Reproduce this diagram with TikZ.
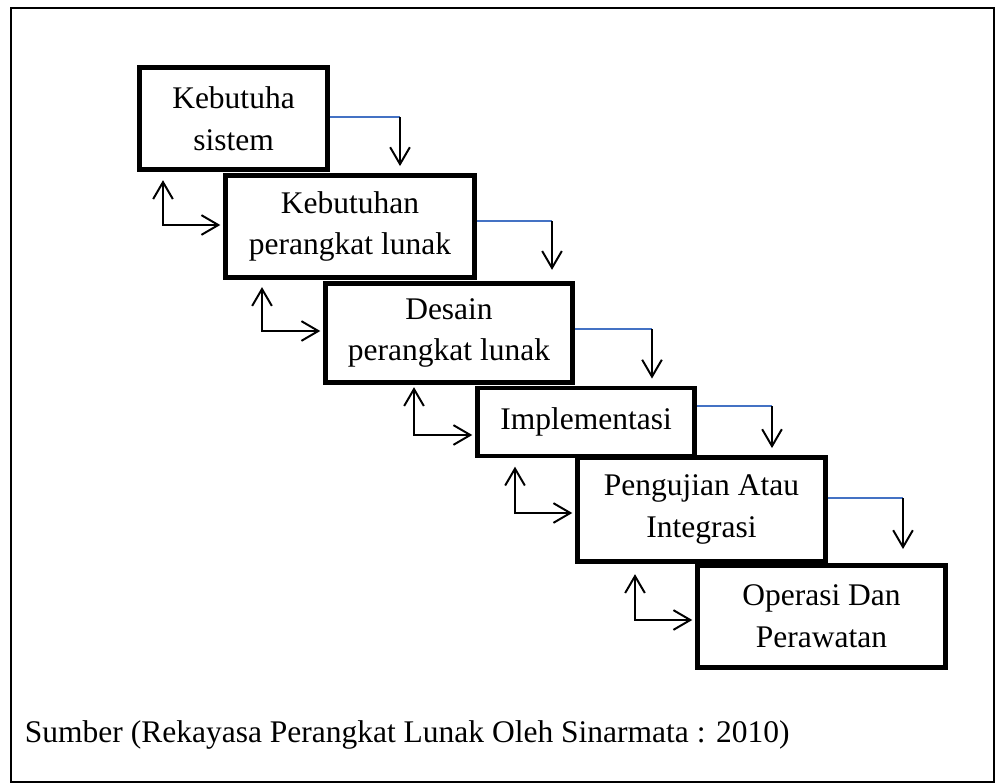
\documentclass[tikz,border=0pt]{standalone}
\usepackage{fontspec}
\setmainfont{Liberation Serif}
\usetikzlibrary{arrows.meta}
\definecolor{lineblue}{HTML}{4472C4}

\begin{document}
\begin{tikzpicture}[x=0.025cm,y=-0.025cm,
   box/.style={draw,line width=3.4pt,fill=white,inner sep=0pt,align=center,
     font=\fontsize{22.4}{29.6}\selectfont},
   flow/.style={line width=1.4pt,-{Straight Barb[length=12pt,width=14pt]},shorten >=5pt},
   back/.style={line width=1.4pt,{Straight Barb[length=12pt,width=14pt]}-{Straight Barb[length=12pt,width=14pt]},
     shorten <=5pt,shorten >=2pt},
   blueline/.style={lineblue,line width=0.9pt}]
   \useasboundingbox (0,0) rectangle (995,783);
   \draw[line width=1.4pt] (11,8) rectangle (994,782);
   % steps
   \node[box,minimum width=4.7cm,minimum height=2.55cm] (sys) at (233.5,118.5) {Kebutuha\\sistem};
   \node[box,minimum width=6.225cm,minimum height=2.55cm] (plk) at (350,226.5) {Kebutuhan\\perangkat lunak};
   \node[box,minimum width=6.175cm,minimum height=2.475cm] (dsn) at (449,333) {Desain\\perangkat lunak};
   \node[box,minimum width=5.425cm,minimum height=1.7cm] (imp) at (586,422) {Implementasi};
   \node[box,minimum width=6.2cm,minimum height=2.6cm] (uji) at (701.5,509.5) {Pengujian Atau\\Integrasi};
   \node[box,minimum width=6.2cm,minimum height=2.55cm] (ops) at (821.5,616.5) {Operasi Dan\\Perawatan};
   % forward
   \coordinate (t1) at (400,117);
   \coordinate (t2) at (552,221);
   \coordinate (t3) at (652,329);
   \coordinate (t4) at (772,406);
   \coordinate (t5) at (903,498);
   \draw[blueline] (sys.east |- t1) -- (t1);
   \draw[flow] (t1) -- (t1 |- plk.north);
   \draw[blueline] (plk.east |- t2) -- (t2);
   \draw[flow,shorten >=8pt] (t2) -- (t2 |- dsn.north);
   \draw[blueline] (dsn.east |- t3) -- (t3);
   \draw[flow] (t3) -- (t3 |- imp.north);
   \draw[blueline] (imp.east |- t4) -- (t4);
   \draw[flow] (t4) -- (t4 |- uji.north);
   \draw[blueline] (uji.east |- t5) -- (t5);
   \draw[flow,shorten >=10pt] (t5) -- (t5 |- ops.north);
   % back
   \coordinate (k2) at (163,225);
   \coordinate (k3) at (262,331);
   \coordinate (k4) at (414,435);
   \coordinate (k5) at (515,513);
   \coordinate (k6) at (635,620);
   \draw[back,shorten <=5.9pt] (k2 |- sys.south) -- (k2) -- (plk.west |- k2);
   \draw[back,shorten <=5.1pt] (k3 |- plk.south) -- (k3) -- (dsn.west |- k3);
   \draw[back,shorten <=1.6pt] (k4 |- dsn.south) -- (k4) -- (imp.west |- k4);
   \draw[back,shorten <=5.9pt] (k5 |- imp.south) -- (k5) -- (uji.west |- k5);
   \draw[back,shorten <=7.3pt] (k6 |- uji.south) -- (k6) -- (ops.west |- k6);
   \node[anchor=base west,font=\fontsize{22.4}{29.6}\selectfont] (src) at (20,742)
     {Sumber (Rekayasa Perangkat Lunak Oleh Sinarmata : 2010)};
\end{tikzpicture}
\end{document}
